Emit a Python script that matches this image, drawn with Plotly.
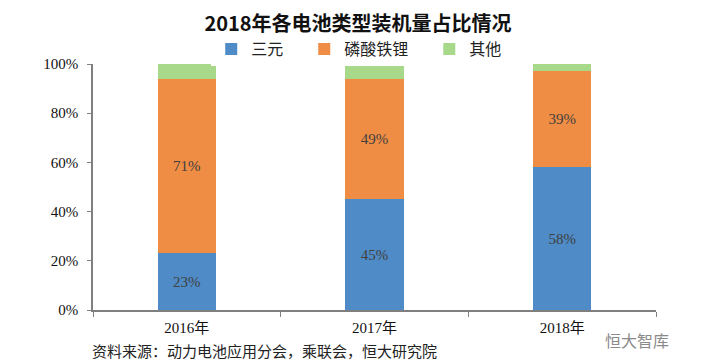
import plotly.graph_objects as go

categories = ["2016年", "2017年", "2018年"]
series_names = ["三元", "磷酸铁锂", "其他"]
ternary = [0.23, 0.45, 0.58]
lfp = [0.71, 0.49, 0.39]
other = [0.06, 0.06, 0.03]
y_ticks = [0, 0.2, 0.4, 0.6, 0.8, 1.0]
colors = ["#4f8bc6", "#f08d45", "#a8d98b"]

serif = "Liberation Serif, Noto Sans CJK SC"
cjk = "Noto Sans CJK SC"

fig = go.Figure()
traces = [(series_names[0] + "\u3000", ternary, colors[0], True),
          (series_names[1] + "\u3000", lfp, colors[1], True),
          (series_names[2], other, colors[2], False)]
for name, vals, col, show in traces:
    fig.add_trace(go.Bar(
        x=categories, y=vals, name=name,
        marker=dict(color=col, line=dict(width=0)),
        text=[f"{round(v*100)}%" for v in vals] if show else None,
        textposition="inside", insidetextanchor="middle",
        textfont=dict(family=serif, size=15, color="#404040"),
        hoverinfo="skip",
    ))

fig.update_layout(
    barmode="stack",
    bargap=0.69,
    width=720, height=361,
    margin=dict(l=85, r=72, t=56, b=59, autoexpand=False),
    paper_bgcolor="white", plot_bgcolor="white",
    title=dict(text="<b>2018年各电池类型装机量占比情况</b>", x=350 / 720, xanchor="center",
               xref="container", yref="container",
               y=1 - 16 / 361, yanchor="middle",
               font=dict(family=cjk, size=20, color="#111111")),
    legend=dict(orientation="h", xref="paper", x=0.21, xanchor="left",
                yref="container", y=1 - 41 / 361, yanchor="middle",
                font=dict(family=cjk, size=16, color="#222222"),
                traceorder="normal", itemwidth=30),
    showlegend=True,
    xaxis=dict(showline=True, linecolor="#7f7f7f", linewidth=1.5,
               ticks="outside", tickson="boundaries", ticklen=5, tickcolor="#7f7f7f",
               tickfont=dict(family=serif, size=15, color="#111111"),
               ticklabelstandoff=3,
               showgrid=False, fixedrange=True, automargin=False),
    yaxis=dict(range=[0, 1.0], tickvals=y_ticks,
               tickformat=".0%", showline=True, linecolor="#7f7f7f", linewidth=1.5,
               ticks="outside", ticklen=4, tickcolor="#7f7f7f",
               tickfont=dict(family=serif, size=15, color="#111111"),
               ticklabelstandoff=6,
               showgrid=False, zeroline=False, fixedrange=True, automargin=False),
    uniformtext=dict(mode="show", minsize=10),
)

fig.add_annotation(text="资料来源：动力电池应用分会，乘联会，恒大研究院",
                   xref="paper", yref="paper", x=-0.005, y=-40 / 246,
                   xanchor="left", yanchor="middle", showarrow=False,
                   font=dict(family=cjk, size=15, color="#222222"))
fig.add_annotation(text="恒大智库", xref="paper", yref="paper", x=0.906, y=-30 / 246,
                   xanchor="left", yanchor="middle", showarrow=False,
                   font=dict(family=cjk, size=16, color="#8a8a8a"))

fig.write_html("out.html")
